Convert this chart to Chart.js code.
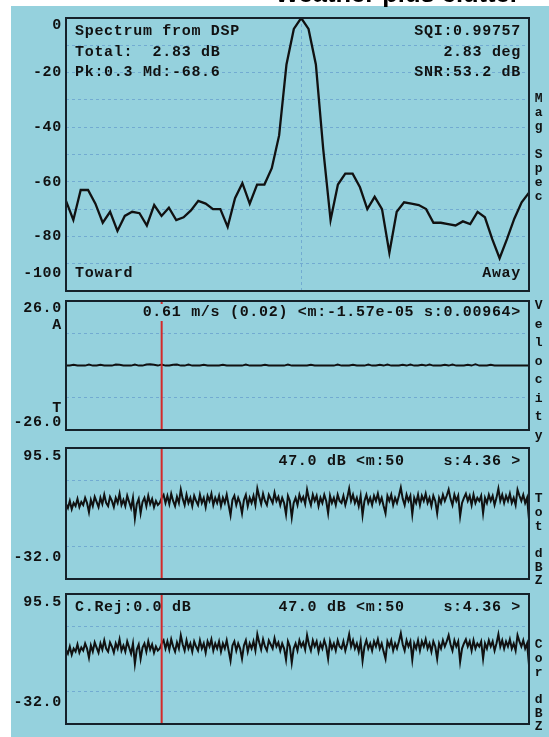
<!DOCTYPE html>
<html><head><meta charset="utf-8">
<script src="https://cdn.jsdelivr.net/npm/chart.js@4.4.1/dist/chart.umd.min.js"></script>
<style>
html,body{margin:0;padding:0;background:#fff;}
#page{position:relative;width:549px;height:737px;overflow:hidden;background:#fff;}
#blue{position:absolute;left:11px;top:6px;right:0;bottom:0;background:#95d1dd;}
#title{position:absolute;left:275px;top:-19px;font:bold 25.5px "Liberation Sans",Arial,sans-serif;line-height:25px;color:#000;white-space:nowrap;z-index:5;}
canvas{position:absolute;left:0;top:0;}
</style></head>
<body><div id="page">
<div id="blue"></div>
<div id="title">Weather plus clutter</div>
<canvas id="c1" width="549" height="737"></canvas>
<canvas id="c2" width="549" height="737"></canvas>
<canvas id="c3" width="549" height="737"></canvas>
<canvas id="c4" width="549" height="737"></canvas>
</div>
<script>
// ---------------- DATA ----------------
// Panel 1: Doppler spectrum (64 bins, dB)
const specBins = [-32,-31,-30,-29,-28,-27,-26,-25,-24,-23,-22,-21,-20,-19,-18,-17,
  -16,-15,-14,-13,-12,-11,-10,-9,-8,-7,-6,-5,-4,-3,-2,-1,
  0,1,2,3,4,5,6,7,8,9,10,11,12,13,14,15,
  16,17,18,19,20,21,22,23,24,25,26,27,28,29,30,31];
const specDb = [-67,-74,-63,-63,-68,-75,-71,-78,-72.5,-71,-71.5,-76,-68.5,-72.5,-69.5,-74,
  -73,-70.5,-67,-68,-70,-70,-76.5,-66,-60.5,-68,-61,-61,-55,-43,-17,-4,
  0,-4,-17,-48,-74,-61,-57,-57,-62,-70,-65.5,-70,-86,-71,-67.5,-68,
  -68.5,-70,-75,-75,-75.5,-76,-74.5,-75.5,-71,-73,-81,-88,-81,-73.5,-67.5,-64];
const specYValues = [0,-20,-40,-60,-80,-100];
const specYLabels = ['0','-20','-40','-60','-80','-100'];
const specTextLeft = ['Spectrum from DSP','Total:  2.83 dB','Pk:0.3 Md:-68.6'];
const specTextRight = ['SQI:0.99757','2.83 deg','SNR:53.2 dB'];
const specDirLabels = ['Toward','Away'];

// Panel 2: velocity along range gates (m/s)
const velValues = [0,0,0.3,0,0,0,0.4,0,0,0.3, 0,0,0,0.4,0.3,0,0,0,0.4,0,
  0,0.4,0.5,0.3,0,0.4,0,0,0.3,0.4, 0,0,0.4,0,0,0,0.3,0,0,0,
  0,0.3,0,0,0,0,0,0.4,0,0, 0,0,0.3,0,0,0,0,0,0.4,0,
  0,0,0,0,0.3,0,0,0,0,0, 0,0.4,0,0,0,0.3,0,0,0,0.4,
  0,0,0.3,0,0.4,0,0,0,0.3,0, 0.4,0,0,0.3,0,0.4,0,0,0,0.3,
  0,0.4,0,0,0,0.3,0,0.5,0,0, 0,0.3,0,0,0,0,0,0,0,0, 0,0];
const velCursor = 25;
const velRange = [-26, 26];
const velYLabels = ['26.0','A','T','-26.0'];
const velText = '0.61 m/s (0.02) <m:-1.57e-05 s:0.00964>';

// Panels 3 & 4: reflectivity along range gates (dBZ)
const dbzValues = [41,37,44,36,42,39,46,38,43,40,47,42,33,45,39,48,43,38,47,41,
  50,42,39,48,44,38,47,42,51,40,45,39,49,43,37,47,27,41,46,32,
  43,47,39,49,41,46,38,44,40,42,47,50,42,49,41,51,44,39,48,42,
  55,46,40,50,42,47,39,49,44,40,50,42,47,38,49,44,51,40,47,42,
  49,39,47,42,50,40,30,45,49,40,47,42,32,45,50,39,47,42,49,40,
  56,48,41,51,44,40,50,46,42,52,44,48,40,47,42,31,49,44,28,42,
  47,40,50,44,48,41,55,46,40,50,44,49,39,47,42,50,44,32,49,42,
  47,40,50,44,42,49,40,47,56,44,50,42,47,39,49,30,44,50,42,47,
  40,49,44,51,42,47,39,32,49,44,50,40,47,42,49,57,46,40,50,44,
  49,31,47,42,50,40,49,44,51,42,47,39,49,44,32,47,42,50,44,49,
  55,46,40,50,44,49,29,42,47,51,44,49,40,50,42,47,44,49,32,47,
  42,50,44,49,40,47,56,44,50,42,49,44,51,42,47,40,55,49,44,50,
  42,47,26];
const dbzCursor = 50;
const dbzRange = [-32, 95.5];
const dbzGridValues = [0, 63.75];
const dbzYLabels = ['95.5','-32.0'];
const dbzText = '47.0 dB <m:50    s:4.36 >';
const corRejText = 'C.Rej:0.0 dB';

// ---------------- STYLE ----------------
const BG = '#95d1dd', GRID = '#72abd1', FRAME = '#15212a', INK = '#111', RED = '#d42a2a';
const MONO = 'bold 15px "Liberation Mono", "DejaVu Sans Mono", monospace';
const SIDE = 'bold 13px "Liberation Mono", "DejaVu Sans Mono", monospace';
const SPACING = '0.7px';
const PLOT_LEFT = 66, PLOT_RIGHT = 529;

const deco = {
  id: 'deco',
  afterDatasetsDraw(chart, args, o) {
    const {ctx, chartArea: a} = chart;
    const ys = chart.scales.y;
    ctx.save();
    ctx.textBaseline = 'middle';
    ctx.font = MONO;
    if ('letterSpacing' in ctx) ctx.letterSpacing = SPACING;
    ctx.fillStyle = INK;
    (o.texts || []).forEach(t => {
      const left = t.align === 'left';
      const x = left ? a.left + 9 : a.right - 8;
      const y = t.fromBottom ? a.bottom - t.dy : a.top + t.dy;
      ctx.textAlign = t.align;
      if (t.bg) {
        const w = ctx.measureText(t.text).width;
        ctx.fillStyle = BG;
        ctx.fillRect(left ? x - 2 : x - w - 2, y - 8, w + 4, 17);
        ctx.fillStyle = INK;
      }
      ctx.fillText(t.text, x, y);
    });
    ctx.textAlign = 'right';
    (o.axisLabels || []).forEach(l => {
      ctx.fillText(l.text, a.left - 4, ys.getPixelForValue(l.value) + l.dy);
    });
    if (o.side) {
      ctx.font = SIDE;
      ctx.textAlign = 'center';
      [...o.side.text].forEach((ch, i) => {
        if (ch !== ' ') ctx.fillText(ch, a.right + 10, a.top + o.side.top + i * o.side.step);
      });
    }
    ctx.strokeStyle = FRAME; ctx.lineWidth = 2;
    ctx.strokeRect(a.left, a.top, a.right - a.left, a.bottom - a.top);
    ctx.restore();
  }
};

function gridAxis(extra) {
  return Object.assign({
    type: 'linear',
    ticks: {display: false},
    grid: {color: GRID, drawTicks: false, lineWidth: 1},
    border: {display: false, dash: [3, 3]}
  }, extra);
}

function makeChart(id, top, bottom, datasets, scales, decoOpts) {
  return new Chart(document.getElementById(id), {
    type: 'line',
    data: {datasets},
    options: {
      responsive: false, animation: false, events: [], devicePixelRatio: 1,
      layout: {padding: {left: PLOT_LEFT, right: 549 - PLOT_RIGHT, top: top, bottom: 737 - bottom}},
      elements: {point: {radius: 0}, line: {tension: 0}},
      plugins: {legend: {display: false}, tooltip: {enabled: false}, deco: decoOpts},
      scales
    },
    plugins: [deco]
  });
}

// Panel 1
makeChart('c1', 18, 291, [{
  data: specBins.map((b, i) => ({x: b, y: specDb[i]})),
  borderColor: INK, borderWidth: 2.3
}], {
  x: gridAxis({min: specBins[0], max: specBins[specBins.length - 1], afterBuildTicks: ax => { ax.ticks = [{value: 0}]; }}),
  y: gridAxis({min: -100, max: 0, ticks: {display: false, stepSize: 10}})
}, {
  texts: [
    {text: specTextLeft[0], align: 'left', dy: 13.5},
    {text: specTextLeft[1], align: 'left', dy: 34},
    {text: specTextLeft[2], align: 'left', dy: 54.5},
    {text: specTextRight[0], align: 'right', dy: 13.5},
    {text: specTextRight[1], align: 'right', dy: 34},
    {text: specTextRight[2], align: 'right', dy: 54.5},
    {text: specDirLabels[0], align: 'left', dy: 18, fromBottom: true},
    {text: specDirLabels[1], align: 'right', dy: 18, fromBottom: true}
  ],
  axisLabels: specYValues.map((v, i) => ({text: specYLabels[i], value: v, dy: i === 0 ? 7 : (i === specYValues.length - 1 ? -18 : 0)})),
  side: {text: 'Mag Spec', top: 81, step: 14}
});

// Panel 2
makeChart('c2', 301, 438, [
  {data: [{x: velCursor, y: velRange[0]}, {x: velCursor, y: velRange[1]}], borderColor: RED, borderWidth: 2},
  {data: velValues.map((v, i) => ({x: i, y: v})), borderColor: INK, borderWidth: 1.8}
], {
  x: gridAxis({min: 0, max: velValues.length - 1, grid: {display: false}}),
  y: gridAxis({min: velRange[0], max: velRange[1], ticks: {display: false, stepSize: 13}})
}, {
  texts: [{text: velText, align: 'right', dy: 11, bg: true}],
  axisLabels: [
    {text: velYLabels[0], value: velRange[1], dy: 7},
    {text: velYLabels[1], value: velRange[1], dy: 24},
    {text: velYLabels[2], value: velRange[0], dy: -22},
    {text: velYLabels[3], value: velRange[0], dy: -8}
  ],
  side: {text: 'Velocity', top: 5, step: 18.5}
});

// Panels 3 & 4
function dbzPanel(id, top, bottom, texts, sideText) {
  makeChart(id, top, bottom, [
    {data: [{x: dbzCursor, y: dbzRange[0]}, {x: dbzCursor, y: dbzRange[1]}], borderColor: RED, borderWidth: 2},
    {data: dbzValues.map((v, i) => ({x: i, y: v})), borderColor: INK, borderWidth: 2}
  ], {
    x: gridAxis({min: 0, max: dbzValues.length - 1, grid: {display: false}}),
    y: gridAxis({min: dbzRange[0], max: dbzRange[1], afterBuildTicks: ax => { ax.ticks = dbzGridValues.map(v => ({value: v})); }})
  }, {
    texts,
    axisLabels: [
      {text: dbzYLabels[0], value: dbzRange[1], dy: 8},
      {text: dbzYLabels[1], value: dbzRange[0], dy: -22}
    ],
    side: {text: sideText, top: 51, step: 13.7}
  });
}
dbzPanel('c3', 448, 587, [{text: dbzText, align: 'right', dy: 13}], 'Tot dBZ');
dbzPanel('c4', 594, 732, [{text: corRejText, align: 'left', dy: 13}, {text: dbzText, align: 'right', dy: 13}], 'Cor dBZ');
</script>
</body></html>
